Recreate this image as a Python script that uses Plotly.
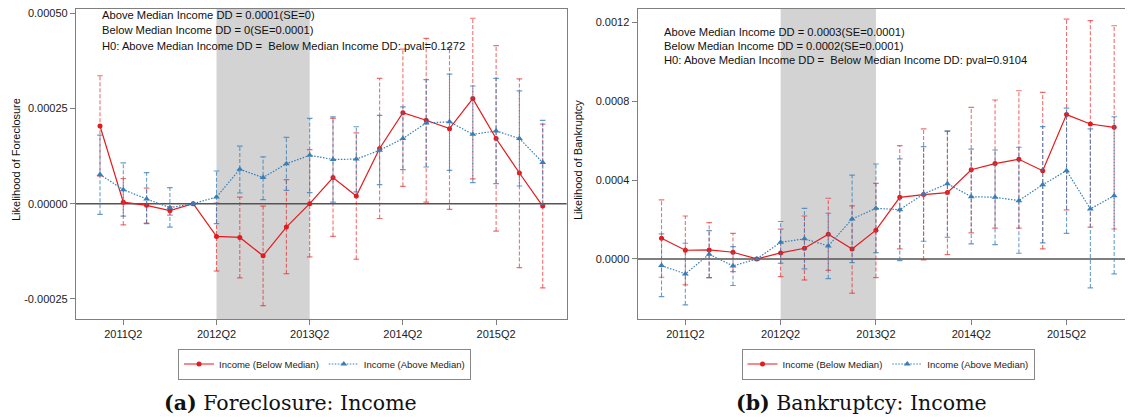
import plotly.graph_objects as go

# ---------------- data ----------------
quarters = ["2011Q1", "2011Q2", "2011Q3", "2011Q4", "2012Q1", "2012Q2", "2012Q3", "2012Q4",
            "2013Q1", "2013Q2", "2013Q3", "2013Q4", "2014Q1", "2014Q2", "2014Q3", "2014Q4",
            "2015Q1", "2015Q2", "2015Q3", "2015Q4"]
tick_labels = ["2011Q2", "2012Q2", "2013Q2", "2014Q2", "2015Q2"]

# Panel (a) Foreclosure
fc_below = [0.000204, 0.000004, -0.0000045, -0.0000185, 0.0, -0.000086, -0.0000887, -0.000137,
            -0.0000615, 0.0, 0.0000684, 0.00002, 0.000145, 0.000239, 0.000219, 0.000197,
            0.000276, 0.000171, 0.0000805, -0.0000063]
fc_below_lo = [0.000072, -0.000056, -0.000051, -0.00003, None, -0.000177, -0.000195, -0.000268,
               -0.000184, -0.00014, -0.000086, -0.000146, -0.000039, 0.0000455, 0.000004, -0.000015,
               0.000065, -0.000072, -0.000168, -0.000221]
fc_below_hi = [0.000336, 0.000066, 0.000041, -0.000008, None, 0.0000016, 0.0000174, -0.0000063,
               0.000063, 0.000142, 0.000224, 0.000186, 0.000329, 0.000406, 0.000434, 0.00041,
               0.000487, 0.000415, 0.000328, 0.000209]
fc_above = [0.0000763, 0.0000368, 0.0000123, -0.0000105, 0.0, 0.0000174, 0.0000903, 0.0000684,
            0.000105, 0.000127, 0.000116, 0.000117, 0.00014, 0.000171, 0.000212, 0.000215,
            0.000182, 0.000191, 0.000171, 0.000108]
fc_above_lo = [-0.000028, -0.000033, -0.0000526, -0.0000615, None, -0.0000526, 0.000028, 0.0000105,
               0.000035, 0.000029, 0.000004, 0.000031, 0.00005, 0.0000895, 0.0000963, 0.0000876,
               0.0000553, 0.0000526, 0.0000463, -0.000003]
fc_above_hi = [0.00018, 0.000107, 0.0000816, 0.000042, None, 0.0000858, 0.000151, 0.000123,
               0.000174, 0.000224, 0.000228, 0.000202, 0.000232, 0.000254, 0.000326, 0.00034,
               0.000309, 0.000329, 0.000296, 0.000219]

# Panel (b) Bankruptcy
bk_below = [0.000105, 0.000044, 0.0000457, 0.0000338, 0.0, 0.0000305, 0.0000541, 0.000125,
            0.0000508, 0.000146, 0.000313, 0.000327, 0.000337, 0.000453, 0.000484, 0.000506,
            0.000448, 0.000733, 0.000685, 0.000668]
bk_below_lo = [-0.000093, -0.000132, -0.0000948, -0.0000643, None, -0.0000897, -0.000107, -0.000058,
               -0.000174, -0.0000948, 0.0000508, -0.000005, 0.000022, 0.000132, 0.000156, 0.000156,
               0.0000508, 0.000249, 0.000161, 0.000152]
bk_below_hi = [0.0003, 0.000218, 0.000184, 0.00013, None, 0.000151, 0.000218, 0.000308,
               0.000269, 0.000384, 0.000575, 0.00066, 0.000648, 0.00077, 0.000807, 0.000854,
               0.000846, 0.001218, 0.00121, 0.001184]
bk_above = [-0.0000338, -0.0000761, 0.0000237, -0.0000355, 0.0, 0.0000846, 0.000102, 0.000066,
            0.000203, 0.000257, 0.00025, 0.00033, 0.000382, 0.000316, 0.000313, 0.000296,
            0.000377, 0.000448, 0.000254, 0.000321]
bk_above_lo = [-0.000191, -0.000233, -0.0000948, -0.000135, None, -0.000022, -0.0000508, -0.0001,
               -0.0000186, 0.0000321, -0.0000085, 0.0000897, 0.00011, 0.0000761, 0.0000728, 0.0000288,
               0.0000812, 0.00013, -0.000147, -0.0000761]
bk_above_hi = [0.000127, 0.0000795, 0.000144, 0.0000626, None, 0.00019, 0.000257, 0.000232,
               0.000426, 0.000482, 0.000508, 0.00057, 0.00065, 0.000558, 0.000553, 0.000567,
               0.000672, 0.000766, 0.00066, 0.000722]

fc_text = ["Above Median Income DD = 0.0001(SE=0)",
           "Below Median Income DD = 0(SE=0.0001)",
           "H0: Above Median Income DD = \u00a0Below Median Income DD: pval=0.1272"]
bk_text = ["Above Median Income DD = 0.0003(SE=0.0001)",
           "Below Median Income DD = 0.0002(SE=0.0001)",
           "H0: Above Median Income DD = \u00a0Below Median Income DD: pval=0.9104"]

shade_start, shade_end = "2012Q2", "2013Q2"

# ---------------- styles ----------------
OFF = 8                      # page body margin
W, H = 1133 - OFF, 419 - OFF
RED = "#E41A1C"
BLUE = "#377EB8"
RED_EB = "rgba(228,26,28,0.62)"
BLUE_EB = "rgba(55,126,184,0.75)"
FONT = "Liberation Sans, Arial, sans-serif"
AXIS_COL = "#7f7f7f"

xi = list(range(len(quarters)))
tick_idx = [quarters.index(t) for t in tick_labels]


def px_x(p):
    return (p - OFF) / W


def px_y(p):
    return 1 - (p - OFF) / H


fig = go.Figure()


def add_panel(xa, ya, below, blo, bhi, above, alo, ahi, legend_name):
    for vals, lo, hi, col, ebcol, name, sym, dash, msize in [
        (below, blo, bhi, RED, RED_EB, "Income (Below Median)", "circle", "solid", 5),
        (above, alo, ahi, BLUE, BLUE_EB, "Income (Above Median)", "triangle-up", "1.5px,1.5px", 6),
    ]:
        ex, ey, cx, cy = [], [], [], []
        for i, l, h in zip(xi, lo, hi):
            if l is None:
                continue
            ex += [i, i, None]
            ey += [l, h, None]
            cx += [i, i]
            cy += [l, h]
        fig.add_trace(go.Scatter(x=ex, y=ey, mode="lines", xaxis=xa, yaxis=ya,
                                 line=dict(color=ebcol, width=1.1, dash="4px,2px"),
                                 showlegend=False, hoverinfo="skip"))
        fig.add_trace(go.Scatter(x=cx, y=cy, mode="markers", xaxis=xa, yaxis=ya,
                                 marker=dict(symbol="line-ew", size=4,
                                             line=dict(color=ebcol, width=1.2)),
                                 showlegend=False, hoverinfo="skip"))
        fig.add_trace(go.Scatter(x=xi, y=vals, mode="lines+markers", xaxis=xa, yaxis=ya,
                                 name=name, legend=legend_name,
                                 line=dict(color=col, width=1.2, dash=dash),
                                 marker=dict(symbol=sym, size=msize, color=col)))


add_panel("x", "y", fc_below, fc_below_lo, fc_below_hi, fc_above, fc_above_lo, fc_above_hi, "legend")
add_panel("x2", "y2", bk_below, bk_below_lo, bk_below_hi, bk_above, bk_above_lo, bk_above_hi, "legend2")

# shading and zero lines
for xr, yr in [("x", "y"), ("x2", "y2")]:
    fig.add_shape(type="rect", xref=xr, yref=f"{yr} domain",
                  x0=quarters.index(shade_start), x1=quarters.index(shade_end), y0=0, y1=1,
                  fillcolor="#D3D3D3", line=dict(width=0), layer="below")
    fig.add_shape(type="line", xref=f"{xr} domain", yref=yr, x0=0, x1=1, y0=0, y1=0,
                  line=dict(color="#555555", width=1.5), layer="below")

# geometry (top of plot limited by the page's body margin)
y_dom = [px_y(319), px_y(9)]
ax_common = dict(showline=True, linecolor=AXIS_COL, linewidth=1.3, showgrid=False, zeroline=False,
                 ticks="outside", ticklen=5, tickcolor=AXIS_COL, tickwidth=1, automargin=False,
                 ticklabeloverflow="allow",
                 tickfont=dict(family=FONT, size=11, color="#222222"))

fig.update_layout(
    width=W, height=H, margin=dict(l=0, r=0, t=0, b=0, autoexpand=False),
    paper_bgcolor="white", plot_bgcolor="white",
    xaxis=dict(domain=[px_x(76), px_x(566.7)], range=[-1.03, 20.03], tickvals=tick_idx,
               ticktext=tick_labels, mirror=True, anchor="y", **ax_common),
    yaxis=dict(domain=y_dom, range=[-0.000303, 0.0005113], tickvals=[-0.00025, 0, 0.00025, 0.0005],
               ticktext=["-0.00025", "0.00000", "0.00025", "0.00050"], mirror=True, anchor="x",
               **ax_common),
    xaxis2=dict(domain=[px_x(637.7), 1.0], range=[-1.0, 19.79], tickvals=tick_idx,
                ticktext=tick_labels, mirror=True, anchor="y2", **ax_common),
    yaxis2=dict(domain=y_dom, range=[-0.000305, 0.001269], tickvals=[0, 0.0004, 0.0008, 0.0012],
                ticktext=["0.0000", "0.0004", "0.0008", "0.0012"], anchor="x2", **ax_common),
    legend=dict(orientation="h", x=px_x(324.5), y=px_y(364), xanchor="center", yanchor="middle",
                bordercolor="#888888", borderwidth=1, bgcolor="white",
                font=dict(family=FONT, size=9.5, color="#222222"), itemwidth=30,
                tracegroupgap=0),
    legend2=dict(orientation="h", x=px_x(888), y=px_y(364), xanchor="center", yanchor="middle",
                 bordercolor="#888888", borderwidth=1, bgcolor="white",
                 font=dict(family=FONT, size=9.5, color="#222222"), itemwidth=30,
                 tracegroupgap=0),
)

ann = []
for k, t in enumerate(fc_text):
    ann.append(dict(text=t, x=px_x(100), y=px_y([15, 30.5, 46][k]), xref="paper", yref="paper",
                    xanchor="left", yanchor="middle", showarrow=False,
                    font=dict(family=FONT, size=11.2, color="#111111")))
for k, t in enumerate(bk_text):
    ann.append(dict(text=t, x=px_x(661.7), y=px_y([32, 45.5, 59.5][k]), xref="paper", yref="paper",
                    xanchor="left", yanchor="middle", showarrow=False,
                    font=dict(family=FONT, size=11.2, color="#111111")))
ann.append(dict(text="Likelihood of Foreclosure", x=px_x(16), y=px_y(160), xref="paper", yref="paper",
                textangle=-90, showarrow=False, xanchor="center", yanchor="middle",
                font=dict(family=FONT, size=11, color="#111111")))
ann.append(dict(text="Likelihood of Bankruptcy", x=px_x(578), y=px_y(160), xref="paper", yref="paper",
                textangle=-90, showarrow=False, xanchor="center", yanchor="middle",
                font=dict(family=FONT, size=11, color="#111111")))
ann.append(dict(text="<b>(a)</b> Foreclosure: Income", x=px_x(290), y=px_y(403), xref="paper",
                yref="paper", showarrow=False, xanchor="center", yanchor="middle",
                font=dict(family="DejaVu Serif, serif", size=20.5, color="#111111")))
ann.append(dict(text="<b>(b)</b> Bankruptcy: Income", x=px_x(861), y=px_y(403), xref="paper",
                yref="paper", showarrow=False, xanchor="center", yanchor="middle",
                font=dict(family="DejaVu Serif, serif", size=20.5, color="#111111")))
fig.update_layout(annotations=ann)

fig.write_html("out.html")
